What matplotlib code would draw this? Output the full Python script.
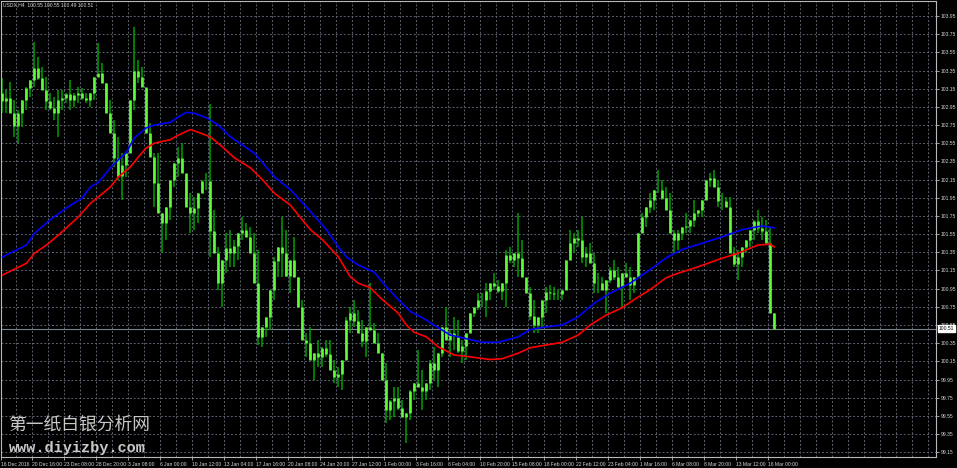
import numpy as np
import matplotlib.pyplot as plt

# USDX H4 - sampled every 2 bars (high / low / close)
high = [103.27, 103.14, 103.22, 103.03, 102.92, 103.03, 103.17, 103.25, 103.66, 103.50,
        103.39, 103.28, 103.10, 103.06, 103.14, 103.14, 103.10, 103.25, 103.10, 103.17,
        103.16, 103.10, 103.10, 103.28, 103.65, 103.43, 103.21, 103.03, 102.81, 102.62,
        102.44, 102.44, 103.03, 103.83, 103.47, 103.39, 103.10, 102.77, 102.44, 102.44,
        101.78, 101.85, 102.15, 102.33, 102.51, 102.55, 102.15, 102.00, 101.96, 102.00,
        102.15, 102.22, 102.98, 101.82, 101.41, 101.27, 101.56, 101.60, 101.49, 101.56,
        101.74, 101.67, 101.63, 101.56, 101.38, 100.53, 100.64, 100.94, 101.30, 101.41,
        101.74, 101.60, 101.27, 101.52, 101.08, 100.83, 100.46, 100.53, 100.24, 100.39,
        100.31, 100.39, 100.39, 100.17, 100.09, 100.17, 100.64, 100.75, 100.83, 100.72,
        100.61, 100.53, 101.01, 100.57, 100.46, 100.24, 100.13, 99.73, 99.87, 99.87,
        99.73, 99.58, 99.84, 99.91, 100.28, 100.06, 99.91, 100.17, 100.31, 100.24,
        100.53, 100.75, 100.50, 100.64, 100.61, 100.39, 100.46, 100.68, 100.75, 100.90,
        100.90, 101.01, 101.01, 101.12, 101.05, 101.01, 101.38, 101.41, 101.34, 101.78,
        101.49, 101.05, 100.97, 100.83, 100.64, 100.83, 100.97, 100.99, 100.97, 100.94,
        100.94, 101.27, 101.60, 101.56, 101.60, 101.74, 101.41, 101.45, 101.34, 101.12,
        101.08, 101.05, 101.19, 101.27, 101.19, 101.12, 101.23, 101.19, 101.08, 101.56,
        101.78, 101.85, 102.00, 102.04, 102.26, 102.15, 102.07, 102.00, 101.60, 101.60,
        101.63, 101.78, 101.71, 101.93, 101.82, 101.93, 102.15, 102.22, 102.26, 102.15,
        102.00, 101.96, 101.96, 101.41, 101.38, 101.41, 101.49, 101.60, 101.71, 101.82,
        101.74, 101.71, 101.63, 100.68]
low = [102.88, 102.88, 102.88, 102.62, 102.55, 102.73, 102.92, 103.06, 103.17, 103.25,
       103.14, 102.92, 102.92, 102.81, 102.62, 102.92, 102.99, 102.92, 102.95, 102.99,
       103.03, 102.99, 102.95, 103.03, 103.32, 103.21, 102.88, 102.66, 102.29, 102.15,
       101.93, 102.18, 102.66, 102.92, 103.21, 103.17, 102.66, 102.40, 101.85, 101.78,
       101.34, 101.49, 101.71, 102.07, 102.18, 102.22, 101.85, 101.56, 101.60, 101.67,
       102.00, 102.04, 101.30, 101.34, 100.94, 100.75, 101.12, 101.19, 101.19, 101.27,
       101.49, 101.52, 101.34, 101.01, 100.33, 100.31, 100.42, 100.50, 100.83, 101.08,
       101.08, 101.08, 100.90, 101.08, 100.75, 100.39, 100.20, 100.17, 99.95, 100.09,
       100.09, 100.20, 100.06, 99.91, 99.87, 99.84, 100.24, 100.46, 100.53, 100.46,
       100.31, 100.20, 100.50, 100.35, 100.24, 99.95, 99.47, 99.51, 99.54, 99.62,
       99.54, 99.25, 99.51, 99.73, 99.87, 99.62, 99.73, 99.84, 99.95, 99.87,
       100.20, 100.39, 100.20, 100.28, 100.24, 100.13, 100.17, 100.46, 100.64, 100.72,
       100.75, 100.64, 100.83, 100.94, 100.90, 100.83, 100.75, 101.23, 101.19, 101.08,
       101.08, 100.90, 100.61, 100.46, 100.46, 100.53, 100.68, 100.83, 100.83, 100.83,
       100.83, 101.08, 101.34, 101.34, 101.41, 101.23, 101.19, 101.23, 100.90, 100.90,
       100.94, 100.68, 101.01, 101.05, 100.97, 100.75, 101.08, 100.83, 100.90, 101.12,
       101.56, 101.63, 101.78, 101.82, 102.00, 101.93, 101.82, 101.56, 101.34, 101.38,
       101.49, 101.56, 101.56, 101.63, 101.74, 101.74, 101.93, 102.07, 102.07, 101.85,
       101.82, 101.85, 101.34, 101.19, 101.05, 101.19, 101.34, 101.41, 101.49, 101.56,
       101.49, 101.45, 100.68, 100.50]
close = [103.01, 103.05, 102.88, 102.74, 102.88, 103.03, 103.16, 103.25, 103.38, 103.27,
         103.14, 103.01, 102.94, 102.88, 103.03, 103.05, 103.09, 103.03, 103.08, 103.10,
         103.05, 103.03, 103.10, 103.28, 103.32, 103.21, 102.88, 102.66, 102.39, 102.19,
         102.31, 102.44, 103.03, 103.34, 103.28, 103.17, 102.66, 102.40, 102.11, 101.78,
         101.67, 101.85, 102.15, 102.33, 102.39, 102.22, 101.85, 101.78, 101.84, 102.00,
         102.13, 102.14, 101.58, 101.34, 101.01, 101.27, 101.40, 101.34, 101.42, 101.56,
         101.60, 101.52, 101.34, 101.01, 100.42, 100.53, 100.64, 100.94, 101.25, 101.41,
         101.34, 101.09, 101.27, 101.08, 100.75, 100.39, 100.35, 100.17, 100.24, 100.20,
         100.30, 100.23, 100.06, 99.98, 100.01, 100.17, 100.61, 100.68, 100.59, 100.46,
         100.37, 100.53, 100.50, 100.35, 100.24, 99.95, 99.62, 99.71, 99.75, 99.64,
         99.54, 99.58, 99.82, 99.91, 99.87, 99.82, 99.91, 100.13, 100.06, 100.24,
         100.53, 100.39, 100.46, 100.43, 100.26, 100.32, 100.46, 100.68, 100.75, 100.83,
         100.83, 100.92, 101.01, 100.98, 100.92, 101.01, 101.32, 101.27, 101.34, 101.29,
         101.08, 100.90, 100.65, 100.55, 100.64, 100.83, 100.91, 100.90, 100.89, 100.89,
         100.94, 101.27, 101.45, 101.51, 101.49, 101.30, 101.34, 101.23, 101.01, 101.01,
         100.94, 101.05, 101.16, 101.08, 100.97, 101.12, 101.08, 100.99, 101.08, 101.56,
         101.74, 101.85, 101.93, 102.04, 102.04, 101.95, 101.82, 101.56, 101.49, 101.56,
         101.63, 101.64, 101.71, 101.78, 101.82, 101.93, 102.15, 102.17, 102.07, 101.91,
         101.91, 101.85, 101.34, 101.22, 101.30, 101.41, 101.49, 101.60, 101.69, 101.62,
         101.58, 101.45, 100.68, 100.51]
first_open = 103.10

# moving averages (sample index, price)
ma_blue_x = [0, 6, 8, 12, 16, 20, 22, 24, 27, 29, 31, 33, 36, 38, 42, 44, 46, 48, 51, 54,
             57, 60, 63, 65, 68, 72, 76, 81, 84, 86, 89, 93, 96, 99, 102, 105, 109, 112,
             115, 120, 124, 129, 132, 136, 140, 144, 148, 152, 157, 162, 166, 170, 175,
             180, 185, 190, 193]
ma_blue = [101.30, 101.43, 101.56, 101.71, 101.84, 101.95, 102.07, 102.12, 102.28, 102.37,
           102.45, 102.61, 102.72, 102.75, 102.78, 102.84, 102.89, 102.88, 102.83, 102.75,
           102.62, 102.53, 102.44, 102.34, 102.18, 102.04, 101.85, 101.60, 101.41, 101.30,
           101.21, 101.13, 100.97, 100.83, 100.70, 100.63, 100.52, 100.44, 100.41, 100.36,
           100.36, 100.42, 100.50, 100.53, 100.55, 100.64, 100.79, 100.90, 101.01, 101.16,
           101.29, 101.38, 101.45, 101.52, 101.60, 101.64, 101.62]
ma_red_x = [0, 6, 8, 11, 14, 19, 22, 24, 27, 29, 32, 34, 36, 38, 42, 44, 47, 49, 52, 55,
            58, 62, 65, 68, 72, 74, 77, 80, 84, 87, 89, 92, 95, 99, 101, 103, 106, 109,
            113, 117, 122, 125, 129, 132, 136, 140, 144, 147, 151, 155, 158, 162, 166,
            169, 174, 179, 184, 189, 192, 193]
ma_red = [101.10, 101.23, 101.34, 101.43, 101.54, 101.74, 101.89, 101.96, 102.07, 102.18,
          102.29, 102.40, 102.50, 102.55, 102.59, 102.64, 102.70, 102.67, 102.62, 102.51,
          102.39, 102.28, 102.15, 102.00, 101.87, 101.76, 101.60, 101.49, 101.30, 101.08,
          101.01, 100.96, 100.83, 100.68, 100.55, 100.47, 100.42, 100.31, 100.22, 100.20,
          100.17, 100.18, 100.24, 100.30, 100.33, 100.36, 100.44, 100.55, 100.66, 100.74,
          100.83, 100.94, 101.07, 101.12, 101.19, 101.27, 101.34, 101.43, 101.44, 101.41]

price_ticks = [99.15, 99.35, 99.55, 99.75, 99.95, 100.15, 100.35, 100.55, 100.75, 100.95,
               101.15, 101.35, 101.55, 101.75, 101.95, 102.15, 102.35, 102.55, 102.75,
               102.95, 103.15, 103.35, 103.55, 103.75, 103.95]
date_labels = ['16 Dec 2016', '20 Dec 16:00', '23 Dec 08:00', '28 Dec 20:00', '3 Jan 08:00',
               '6 Jan 00:00', '10 Jan 12:00', '13 Jan 04:00', '17 Jan 16:00', '20 Jan 08:00',
               '24 Jan 20:00', '27 Jan 12:00', '1 Feb 00:00', '3 Feb 16:00', '8 Feb 04:00',
               '10 Feb 20:00', '15 Feb 08:00', '18 Feb 00:00', '22 Feb 12:00', '23 Feb 04:00',
               '1 Mar 16:00', '6 Mar 08:00', '8 Mar 20:00', '13 Mar 12:00', '16 Mar 00:00']
last_price = 100.51
title = 'USDX,H4  100.55 100.55 100.49 100.51'

fig = plt.figure(figsize=(9.57, 4.68), dpi=100, facecolor='black')
ax = fig.add_axes([0.5 / 957, 11 / 468, 935.5 / 957, 456 / 468], facecolor='black')

n = len(high)
xs = np.arange(n)
opens = [first_open] + close[:-1]

# сетка
grid_col = '#5c6370'
for v in np.arange(-0.5, 234, 4):
    ax.axvline(v, color=grid_col, lw=0.7, ls=(0, (2, 2)), zorder=0)
for v in price_ticks:
    ax.axhline(v, color=grid_col, lw=0.7, ls=(0, (2, 2)), zorder=0)

# свечи
ax.vlines(xs, low, high, color='#00a000', lw=1.1, zorder=2)
ax.vlines(xs, opens, close, color='#5cff38', lw=1.9, zorder=3)

# скользящие средние
ax.plot(ma_blue_x, ma_blue, color='#0000ff', lw=1.2, zorder=4)
ax.plot(ma_red_x, ma_red, color='#ff0000', lw=1.2, zorder=4)

# линия текущей цены
ax.axhline(last_price, color='#7c828c', lw=0.8, zorder=1)

ax.set_xlim(-0.5, 233.5)
ax.set_ylim(99.098, 104.115)

for s in ax.spines.values():
    s.set_color('#b8b8b8')
    s.set_linewidth(0.8)

ax.yaxis.tick_right()
ax.set_yticks(price_ticks)
ax.set_yticklabels(['%.2f' % v for v in price_ticks])
ax.tick_params(axis='y', colors='#b8b8b8', labelcolor='#d8d8d8', length=2.5, width=0.6,
               pad=1, labelsize=3.6)
for t in ax.get_yticklabels():
    t.set_fontfamily('Liberation Sans')

ax.set_xticks([8 * k - 0.5 for k in range(len(date_labels))])
ax.set_xticklabels(date_labels)
ax.tick_params(axis='x', colors='#b8b8b8', labelcolor='#d8d8d8', length=2.5, width=0.6,
               pad=1, labelsize=3.6)
for t in ax.get_xticklabels():
    t.set_fontfamily('Liberation Sans')
    t.set_horizontalalignment('left')

# ярлык цены
ax.annotate('%.2f' % last_price, xy=(1.0, last_price), xycoords=('axes fraction', 'data'),
            xytext=(2, 0), textcoords='offset points', ha='left', va='center',
            fontsize=3.6, family='Liberation Sans', color='black',
            bbox=dict(boxstyle='square,pad=0.15', fc='white', ec='white'))

fig.text(3 / 957, 1 - 5 / 468, title, color='#d8d8d8', fontsize=3.6,
         family='Liberation Sans', ha='left', va='center')

# водяной знак
fig.text(8 / 957, 1 - 425 / 468, '第一纸白银分析网', color='#c8c8c8', fontsize=12.8,
         family=['Noto Sans CJK SC', 'DejaVu Sans'], ha='left', va='center')
fig.text(9 / 957, 1 - 448 / 468, 'www.diyizby.com', color='#c8c8c8', fontsize=11,
         family='Liberation Mono', weight='bold', ha='left', va='center')

fig.savefig('out.png', dpi=100, facecolor='black')
